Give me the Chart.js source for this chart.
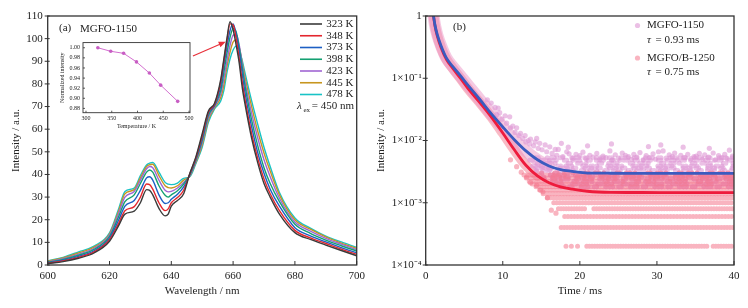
<!DOCTYPE html>
<html><head><meta charset="utf-8">
<script src="https://cdn.jsdelivr.net/npm/chart.js@4.4.1/dist/chart.umd.min.js"></script>
<style>
html,body{margin:0;padding:0;background:#fff;}
#wrap{position:relative;width:748px;height:308px;overflow:hidden;}
#cA{position:absolute;left:0;top:0;}
#cB{position:absolute;left:374px;top:0;}
#cI{position:absolute;left:55px;top:36px;}
</style></head><body>
<div id="wrap">
<canvas id="cA" width="374" height="308"></canvas>
<canvas id="cB" width="374" height="308"></canvas>
<canvas id="cI" width="142" height="100"></canvas>
</div>
<script>
// ---------------- DATA: panel (a) emission spectra ----------------
const wavelengths = [600,605,610,615,620,623,625,628,630,632,633,634,636,638,639,640,642,644,646,648,650,652,654,656,657,658,659,660,661,662,663,664,666,668,670,672,675,680,685,690,695,700];
const temperatureLabels = ['323 K','348 K','373 K','398 K','423 K','445 K','478 K'];
const s323 = [0.6,1.5,3.0,5.3,10.5,17.5,22.5,23.8,27.5,33.3,33.0,31.0,25.0,21.7,22.5,26.0,28.5,31.5,40.5,48.0,58.0,68.0,71.5,82.0,91.0,100.0,107.5,104.0,97.0,89.0,78.0,70.0,56.0,45.0,36.0,30.0,22.5,14.3,11.3,8.8,6.4,4.1];
const s348 = [0.8,1.8,3.4,5.8,11.2,18.5,24.0,25.8,30.0,35.8,35.5,33.5,27.5,24.0,24.8,27.5,29.8,33.0,40.3,47.5,57.0,67.5,71.0,81.0,90.0,99.0,106.5,106.0,100.0,91.0,80.5,72.0,58.0,47.0,38.0,31.5,24.0,15.3,12.0,9.5,7.0,4.7];
const s373 = [1.0,2.1,3.8,6.3,11.8,20.0,26.0,28.5,33.0,38.5,39.0,37.5,31.0,27.2,27.5,29.0,31.3,34.5,40.0,47.0,56.0,67.0,70.5,79.0,88.0,96.5,103.5,106.5,102.0,94.0,84.0,75.0,61.0,49.5,40.5,33.5,26.0,16.5,12.9,10.2,7.7,5.4];
const s398 = [1.2,2.5,4.3,6.9,12.5,21.5,28.0,31.0,36.0,41.0,42.0,41.0,35.0,30.8,30.0,31.0,32.8,35.8,39.8,46.5,55.0,66.0,70.5,77.0,85.0,93.5,100.5,104.5,103.0,96.0,87.0,78.0,64.0,52.5,43.0,36.0,28.0,18.0,14.0,11.0,8.5,6.2];
const s423 = [1.4,2.8,4.8,7.4,13.2,23.0,30.0,32.5,37.5,42.5,43.5,43.0,37.5,33.0,32.3,32.5,34.0,36.5,39.5,46.0,54.0,65.0,70.0,75.5,82.0,90.0,97.0,101.5,102.0,97.0,88.5,80.0,67.0,56.0,46.5,39.0,29.5,19.0,15.0,11.8,9.2,6.8];
const s445 = [1.6,3.1,5.3,7.9,13.7,24.0,31.5,33.3,38.5,43.5,44.3,44.5,39.5,35.0,34.2,34.0,35.0,37.5,39.3,45.5,53.0,64.0,69.5,74.0,79.5,87.5,94.0,98.5,99.5,96.0,89.0,82.0,70.0,59.0,49.5,41.5,31.0,20.0,15.8,12.4,9.7,7.3];
const s478 = [1.8,3.4,5.8,8.3,14.2,25.0,32.5,34.0,39.5,44.2,45.0,45.3,41.0,36.5,35.7,35.5,36.2,38.3,39.0,45.0,52.0,63.0,69.0,72.5,77.0,85.0,91.0,95.0,96.7,95.0,90.0,84.0,72.5,62.0,52.0,43.5,32.0,20.8,16.3,12.8,10.2,7.8];
const spectra = [s323,s348,s373,s398,s423,s445,s478];
const xTicksA = [600,620,640,660,680,700];
const yTicksA = [0,10,20,30,40,50,60,70,80,90,100,110];

// inset
const insetTemps = [323,348,373,398,423,445,478];
const insetNorm = [1.000,0.993,0.989,0.972,0.950,0.926,0.894];
const insetXTicks = [300,350,400,450,500];
const insetYTicks = [0.88,0.90,0.92,0.94,0.96,0.98,1.00];
// arrow (data units of panel a): from inset toward peak
const arrowFrom = [647.0, 92.3];
const arrowTo = [657.6, 98.6];

// ---------------- DATA: panel (b) decay curves ----------------
const decayTimes = [0.9,1.2,1.5,2,2.7,3.5,4.5,5.5,7,8.5,10,11.5,13,14.5,16,17.5,19,21,24,28,34,40];
const fit1150 = [1.25,0.72,0.5,0.33,0.21,0.155,0.11,0.077,0.046,0.027,0.0165,0.0103,0.0068,0.0049,0.0039,0.0034,0.0032,0.0030,0.00298,0.00297,0.00296,0.00296];
const fit1250 = [1.25,0.70,0.48,0.31,0.20,0.145,0.10,0.068,0.041,0.024,0.0132,0.0071,0.0040,0.0027,0.0021,0.0018,0.00165,0.00153,0.00147,0.00146,0.00145,0.00145];
// quantised rows of measured points (level, time spans where points appear)
const rowLevels1250 = [2e-4,4e-4,6e-4,8e-4,1e-3,1.2e-3,1.4e-3,1.6e-3,1.8e-3,2.0e-3,2.2e-3,2.5e-3,2.8e-3];
const rowSpans1250 = [
  [[18.2,18.4],[18.9,19.1],[19.7,19.9],[20.9,36.6],[37.3,40]],
  [[17.5,40]], [[17.8,40]], [[17.1,20.7],[21.7,40]], [[16.3,40]], [[15.6,40]],
  [[15.0,40]], [[14.6,40]], [[14.2,40]], [[13.8,40]], [[13.4,40]], [[13.0,40]], [[12.6,40]]
];
const rowLevels1150 = [1.8e-3,2.0e-3,2.2e-3,2.4e-3,2.6e-3,2.8e-3,3.0e-3,3.3e-3,3.6e-3,3.9e-3,4.3e-3,4.8e-3,5.3e-3];
const rowSpans1150 = [
  [[17.5,40]],[[16.5,40]],[[15.8,40]],[[15.4,40]],[[15.0,40]],[[14.8,40]],[[14.5,40]],[[14.2,40]],[[14.0,40]],[[13.7,40]],[[13.4,40]],[[13.2,40]],[[13.5,40]]
];
const scatter1150T = [8.0,8.5,9.0,9.2,9.4,9.6,9.9,10.3,10.5,10.9,11.0,11.3,11.6,11.8,12.1,12.3,12.6,12.9,13.0,13.3,13.5,13.6,14.0,14.2,14.4,14.6,14.8,15.1,15.5,15.7,16.1,16.4,16.8,17.0,17.2,17.6,17.8,18.3,18.5,18.6,19.1,19.5,20.0,20.4,20.8,21.0,21.3,21.7,22.2,22.6,23.0,23.4,23.9,24.1,24.2,24.6,25.0,25.5,25.9,26.3,26.7,27.0,27.4,27.8,28.2,28.6,28.9,29.0,29.5,29.8,30.2,30.5,30.8,31.2,31.6,32.0,32.3,32.7,33.1,33.4,33.6,34.0,34.4,34.8,35.1,35.5,35.9,36.2,36.7,36.8,37.3,37.6,38.0,38.4,38.8,39.1,39.4,39.8];
const scatter1150V = [0.045,0.040,0.034,0.026,0.033,0.028,0.022,0.025,0.019,0.024,0.016,0.017,0.0135,0.016,0.012,0.013,0.0108,0.012,0.0095,0.0100,0.0088,0.0105,0.0082,0.0095,0.0108,0.0075,0.0090,0.0071,0.0085,0.0066,0.0079,0.0062,0.0072,0.0058,0.0072,0.0090,0.0055,0.0066,0.0078,0.0061,0.0052,0.0060,0.0057,0.0065,0.0051,0.0082,0.0058,0.0054,0.0062,0.0050,0.0056,0.0053,0.0068,0.0088,0.0049,0.0059,0.0052,0.0063,0.0058,0.0055,0.0050,0.0060,0.0054,0.0064,0.0049,0.0057,0.0080,0.0053,0.0061,0.0050,0.0066,0.0085,0.0068,0.0052,0.0059,0.0055,0.0063,0.0049,0.0058,0.0078,0.0053,0.0060,0.0051,0.0055,0.0056,0.0062,0.0050,0.0059,0.0054,0.0075,0.0063,0.0049,0.0057,0.0053,0.0060,0.0051,0.0070,0.0056];
const scatter1250T = [11.0,11.8,12.4,13.1,13.6,14.4,14.9,15.2,15.8,16.3,16.9];
const scatter1250V = [0.0049,0.0038,0.0031,0.0026,0.0021,0.0019,0.0016,0.0015,0.0012,0.00076,0.00068];
const xTicksB = [0,10,20,30,40];
const yTicksB = [1e-4,1e-3,1e-2,1e-1,1];
const yTickLabelsB = ['1×10⁻⁴','1×10⁻³','1×10⁻²','1×10⁻¹','1'];

// ---------------- STYLE ----------------
const FONT = "'Liberation Serif','Times New Roman',serif";
const INK = '#222';
const seriesColors = ['#3a3a3a','#e3262e','#1d5fc4','#14a072','#a066d3','#c7961f','#18c3c6'];
const C1150 = 'rgba(222,150,212,0.6)';
const C1250 = 'rgba(244,118,140,0.55)';
const dashPatterns = [
  [0.01,3,0.01,6,0.01,2.5,0.01,9,0.01,4],
  [0.01,5,0.01,2,0.01,4,0.01,11,0.01,3],
  [0.01,2.5,0.01,7,0.01,3.5,0.01,5,0.01,13],
  [0.01,4,0.01,3,0.01,8,0.01,2.5,0.01,6]
];

function frameTicks(xLen, yOut, yIn, lw){ return {
  id:'frameTicks',
  afterDraw(chart){
    const {ctx, chartArea:a, scales} = chart;
    ctx.save();
    ctx.strokeStyle = '#333'; ctx.lineWidth = lw;
    ctx.strokeRect(a.left, a.top, a.right-a.left, a.bottom-a.top);
    ctx.lineWidth = Math.max(0.8, lw-0.3);
    ctx.beginPath();
    scales.x.ticks.forEach((t,i)=>{const x=scales.x.getPixelForTick(i); ctx.moveTo(x,a.bottom); ctx.lineTo(x,a.bottom-xLen);});
    scales.y.ticks.forEach((t,i)=>{const y=scales.y.getPixelForTick(i); ctx.moveTo(a.left-yOut,y); ctx.lineTo(a.left+yIn,y);});
    ctx.stroke(); ctx.restore();
  }
}}

// ---------------- CHART A ----------------
const annotA = {
  id:'annotA',
  afterDraw(chart){
    const {ctx, scales:{x,y}} = chart;
    ctx.save();
    ctx.fillStyle = INK; ctx.textBaseline = 'middle';
    ctx.font = `11px ${FONT}`;
    ctx.textAlign = 'left';
    ctx.fillText('(a)', 59, 28);
    ctx.fillText('MGFO-1150', 80, 29);
    temperatureLabels.forEach((lab,i)=>{
      const yy = 24 + i*11.75;
      ctx.strokeStyle = seriesColors[i]; ctx.lineWidth = 1.6;
      ctx.beginPath(); ctx.moveTo(300,yy); ctx.lineTo(322,yy); ctx.stroke();
      ctx.textAlign = 'right'; ctx.fillStyle = INK;
      ctx.fillText(lab, 353.5, yy);
    });
    ctx.textAlign = 'left';
    ctx.font = `italic 11px ${FONT}`;
    ctx.fillText('λ', 297, 106);
    ctx.font = `7px ${FONT}`;
    ctx.fillText('ex', 303.5, 110);
    ctx.font = `11px ${FONT}`;
    ctx.fillText(' = 450 nm', 309, 106);
    const x0 = x.getPixelForValue(arrowFrom[0]), y0 = y.getPixelForValue(arrowFrom[1]);
    const x1 = x.getPixelForValue(arrowTo[0]), y1 = y.getPixelForValue(arrowTo[1]);
    const ang = Math.atan2(y1-y0, x1-x0);
    ctx.strokeStyle = '#e8303a'; ctx.fillStyle = '#e8303a'; ctx.lineWidth = 1.2;
    ctx.beginPath(); ctx.moveTo(x0,y0); ctx.lineTo(x1-5*Math.cos(ang), y1-5*Math.sin(ang)); ctx.stroke();
    ctx.beginPath(); ctx.moveTo(x1,y1);
    ctx.lineTo(x1-7*Math.cos(ang)+3*Math.sin(ang), y1-7*Math.sin(ang)-3*Math.cos(ang));
    ctx.lineTo(x1-7*Math.cos(ang)-3*Math.sin(ang), y1-7*Math.sin(ang)+3*Math.cos(ang));
    ctx.closePath(); ctx.fill();
    ctx.restore();
  }
};

new Chart(document.getElementById('cA'), {
  type:'line',
  data:{ datasets: spectra.map((arr,i)=>({
    label: temperatureLabels[i],
    data: arr.map((v,j)=>({x:wavelengths[j], y:v})),
    borderColor: seriesColors[i], borderWidth:1.4, pointRadius:0,
    cubicInterpolationMode:'monotone', fill:false
  }))},
  options:{
    responsive:false, animation:false, devicePixelRatio:1,
    layout:{padding:{top:16,right:17.3,left:0,bottom:0}},
    plugins:{legend:{display:false}, tooltip:{enabled:false}},
    scales:{
      x:{type:'linear', min:600, max:700,
        afterBuildTicks:s=>{s.ticks = xTicksA.map(v=>({value:v}));},
        grid:{display:false, drawTicks:false}, border:{display:false},
        ticks:{font:{family:FONT,size:11}, color:INK, padding:5, maxRotation:0},
        title:{display:true, text:'Wavelength / nm', font:{family:FONT,size:11}, color:INK, padding:{top:0,bottom:10}},
        afterFit:s=>{s.height = 43;}},
      y:{min:0, max:110,
        afterBuildTicks:s=>{s.ticks = yTicksA.map(v=>({value:v}));},
        grid:{display:false, drawTicks:false}, border:{display:false},
        ticks:{font:{family:FONT,size:11}, color:INK, padding:5},
        title:{display:true, text:'Intensity / a.u.', font:{family:FONT,size:11}, color:INK, padding:{top:9.4,bottom:0}},
        afterFit:s=>{s.width = 47.7;}}
    }
  },
  plugins:[frameTicks(4,3,2,1.3), annotA]
});

// ---------------- INSET ----------------
new Chart(document.getElementById('cI'), {
  type:'line',
  data:{datasets:[{
    data: insetTemps.map((t,i)=>({x:t, y:insetNorm[i]})),
    borderColor:'#d36fcf', backgroundColor:'#c85ec4', borderWidth:1,
    pointRadius:1.8, pointBorderWidth:0, tension:0
  }]},
  options:{
    responsive:false, animation:false, devicePixelRatio:1,
    layout:{padding:{top:4.7,right:7,left:0,bottom:0}},
    plugins:{legend:{display:false}, tooltip:{enabled:false}},
    scales:{
      x:{type:'linear', min:294.2, max:501.9,
        afterBuildTicks:s=>{s.ticks = insetXTicks.map(v=>({value:v}));},
        grid:{display:false, drawTicks:false}, border:{display:false},
        ticks:{font:{family:FONT,size:6}, color:INK, padding:2, maxRotation:0},
        title:{display:true, text:'Temperature / K', font:{family:FONT,size:6}, color:INK, padding:{top:0,bottom:5.7}},
        afterFit:s=>{s.height = 23.3;}},
      y:{min:0.8715, max:1.0102,
        afterBuildTicks:s=>{s.ticks = insetYTicks.map(v=>({value:v}));},
        grid:{display:false, drawTicks:false}, border:{display:false},
        ticks:{font:{family:FONT,size:6}, color:INK, padding:3, callback:v=>Number(v).toFixed(2)},
        title:{display:true, text:'Normalized intensity', font:{family:FONT,size:6}, color:INK, padding:{top:3.4,bottom:0}},
        afterFit:s=>{s.width = 28;}}
    }
  },
  plugins:[frameTicks(2,0,2,0.9)]
});

// ---------------- CHART B ----------------
const annotB = {
  id:'annotB',
  afterDraw(chart){
    const {ctx} = chart;
    ctx.save();
    ctx.fillStyle = INK; ctx.textBaseline = 'middle'; ctx.textAlign = 'left';
    ctx.font = `11px ${FONT}`;
    ctx.fillText('(b)', 79, 27);
    const mx = 263.5;
    [[C1150,25.5,'MGFO-1150','0.93'],[C1250,58,'MGFO/B-1250','0.75']].forEach(([c,yy,lab,tau])=>{
      ctx.fillStyle = c; ctx.beginPath(); ctx.arc(mx, yy, 2.6, 0, Math.PI*2); ctx.fill();
      ctx.fillStyle = INK;
      ctx.font = `11px ${FONT}`; ctx.fillText(lab, 273, yy);
      ctx.font = `italic 11px ${FONT}`; ctx.fillText('τ', 273, yy+14.5);
      ctx.font = `11px ${FONT}`; ctx.fillText('= ' + tau + ' ms', 281.5, yy+14.5);
    });
    ctx.restore();
  }
};

function rowDatasets(levels, spans, color, dense, order){
  return levels.map((lv,i)=>({
    type:'line',
    data: spans[i].flatMap(s=>[{x:s[0],y:lv},{x:s[1],y:lv},{x:s[1],y:null}]),
    borderColor: color, borderWidth:5, borderCapStyle:'round',
    borderDash: dense ? [0.01, 2.6 + (i%3)*0.3] : dashPatterns[i%dashPatterns.length],
    borderDashOffset: i*2.3,
    pointRadius:0, spanGaps:false, order
  }));
}

const bandN = 15;
const datasetsB = [
  {type:'line', label:'fit1150', data: decayTimes.map((t,i)=>({x:t,y:fit1150[i]})), borderColor:'#3b5bbf', borderWidth:2.8, pointRadius:0, cubicInterpolationMode:'monotone', order:0},
  {type:'line', label:'fit1250', data: decayTimes.map((t,i)=>({x:t,y:fit1250[i]})), borderColor:'#ee1b3c', borderWidth:2.8, pointRadius:0, cubicInterpolationMode:'monotone', order:1},
  {type:'scatter', data: scatter1150T.map((t,i)=>({x:t,y:scatter1150V[i]})), backgroundColor:C1150, borderWidth:0, pointRadius:2.6, order:3},
  ...rowDatasets(rowLevels1150.slice(0,7), rowSpans1150.slice(0,7), C1250, false, 4),
  ...rowDatasets(rowLevels1150, rowSpans1150, C1150, false, 4),
  {type:'line', data: decayTimes.slice(0,bandN).map((t,i)=>({x:t,y:fit1150[i]})), borderColor:'rgba(235,150,200,0.5)', borderWidth:12, borderCapStyle:'round', pointRadius:0, cubicInterpolationMode:'monotone', order:5},
  {type:'scatter', data: scatter1250T.map((t,i)=>({x:t,y:scatter1250V[i]})), backgroundColor:C1250, borderWidth:0, pointRadius:2.6, order:6},
  ...rowDatasets(rowLevels1250, rowSpans1250, C1250, true, 7),
  {type:'line', data: decayTimes.slice(0,bandN-1).map((t,i)=>({x:t,y:fit1250[i]})), borderColor:'rgba(244,120,140,0.5)', borderWidth:10, borderCapStyle:'round', pointRadius:0, cubicInterpolationMode:'monotone', order:8}
];

new Chart(document.getElementById('cB'), {
  type:'line',
  data:{datasets:datasetsB},
  options:{
    responsive:false, animation:false, devicePixelRatio:1,
    layout:{padding:{top:16,right:14,left:0,bottom:0}},
    plugins:{legend:{display:false}, tooltip:{enabled:false}},
    scales:{
      x:{type:'linear', min:0, max:40,
        afterBuildTicks:s=>{s.ticks = xTicksB.map(v=>({value:v}));},
        grid:{display:false, drawTicks:false}, border:{display:false},
        ticks:{font:{family:FONT,size:11}, color:INK, padding:5, maxRotation:0},
        title:{display:true, text:'Time / ms', font:{family:FONT,size:11}, color:INK, padding:{top:0,bottom:10}},
        afterFit:s=>{s.height = 43;}},
      y:{type:'logarithmic', min:1e-4, max:1,
        afterBuildTicks:s=>{s.ticks = yTicksB.map(v=>({value:v}));},
        grid:{display:false, drawTicks:false}, border:{display:false},
        ticks:{font:{family:FONT,size:11}, color:INK, padding:4, callback:(v)=>{const k=yTicksB.findIndex(t=>Math.abs(t-v)/t<1e-6); return k>=0?yTickLabelsB[k]:'';}},
        title:{display:true, text:'Intensity / a.u.', font:{family:FONT,size:11}, color:INK, padding:{top:0.5,bottom:0}},
        afterFit:s=>{s.width = 51.7;}}
    }
  },
  plugins:[frameTicks(4,3,2,1.3), annotB]
});
</script>
</body></html>
